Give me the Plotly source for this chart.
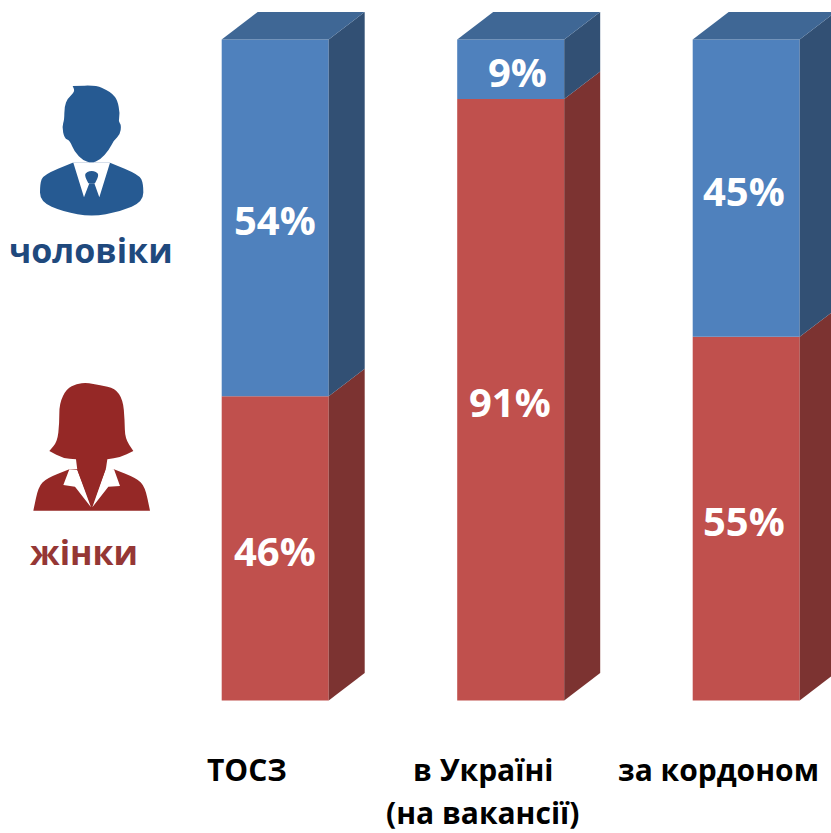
import plotly.graph_objects as go

categories = ["ТОСЗ", "в Україні", "за кордоном"]
category_second_line = ["", "(на вакансії)", ""]
women = [46, 91, 55]
men = [54, 9, 45]
series_names = ["жінки", "чоловіки"]

W, H = 831, 833
PX_PER_CAT = 235.5
PX_PER_PCT = 6.61
X0_PX, Y0_PX = 275.2, 700.4
BAR_PX = 107
DX = 36 / PX_PER_CAT
DY = 27.5 / PX_PER_PCT
HALF = BAR_PX / PX_PER_CAT / 2

BLUE, BLUE_TOP, BLUE_SIDE = "#4F81BD", "#3F6795", "#325074"
RED, RED_SIDE = "#C0504D", "#7C3331"
ICON_BLUE, ICON_RED = "#265A92", "#952826"
FONT = "Open Sans"

fig = go.Figure()
xs = list(range(len(categories)))


def face(x, y, color):
    fig.add_trace(go.Scatter(x=x, y=y, fill="toself", fillcolor=color, mode="lines",
                             line=dict(width=0), hoverinfo="skip", showlegend=False))


fig.add_trace(go.Bar(x=xs, y=women, name=series_names[0], marker=dict(color=RED, line=dict(width=0)),
                     width=2 * HALF, showlegend=False))
fig.add_trace(go.Bar(x=xs, y=men, base=women, name=series_names[1], marker=dict(color=BLUE, line=dict(width=0)),
                     width=2 * HALF, showlegend=False))

for i, (w, m) in enumerate(zip(women, men)):
    r = i + HALF
    l = i - HALF
    t = w + m
    face([r, r + DX, r + DX, r, r], [0, DY, w + DY, w, 0], RED_SIDE)
    face([r, r + DX, r + DX, r, r], [w, w + DY, t + DY, t, w], BLUE_SIDE)
    face([l, l + DX, r + DX, r, l], [t, t + DY, t + DY, t, t], BLUE_TOP)

annotations = []
women_dx = [0, -1, -2]
men_dx = [0, 7, -2]
val_font = dict(family=FONT, size=40, color="white")
cat_font = dict(family=FONT, size=30, color="black")
for i, (w, m) in enumerate(zip(women, men)):
    annotations.append(dict(x=i, y=w / 2, text=f"<b>{w}%</b>", yshift=-2, xshift=women_dx[i], xanchor="center",
                            yanchor="middle", showarrow=False, font=val_font))
    annotations.append(dict(x=i, y=w + m / 2, text=f"<b>{m}%</b>", yshift=-2, xshift=men_dx[i],
                            xanchor="center", yanchor="middle", showarrow=False, font=val_font))
    annotations.append(dict(x=i, y=(Y0_PX - 769) / PX_PER_PCT, text=f"<b>{categories[i]}</b>", xshift=-28,
                            xanchor="center", yanchor="middle", showarrow=False, font=cat_font))
    if category_second_line[i]:
        annotations.append(dict(x=i, y=(Y0_PX - 812) / PX_PER_PCT, text=f"<b>{category_second_line[i]}</b>",
                                xshift=-28, xanchor="center", yanchor="middle", showarrow=False, font=cat_font))

annotations.append(dict(xref="paper", yref="paper", x=91 / W, y=1 - 250 / H, text=f"<b>{series_names[1]}</b>",
                        xanchor="center", yanchor="middle", showarrow=False,
                        font=dict(family=FONT, size=34, color="#1F497D")))
annotations.append(dict(xref="paper", yref="paper", x=84 / W, y=1 - 552 / H, text=f"<b>{series_names[0]}</b>",
                        xanchor="center", yanchor="middle", showarrow=False,
                        font=dict(family=FONT, size=34, color="#953735")))


def icon_path(points, ox, oy, smooth, sharp):
    pts = [(((ox + a / 3) / W), 1 - (oy + b / 3) / H) for a, b in points]
    if not smooth:
        return "M" + " L".join(f"{a:.5f},{b:.5f}" for a, b in pts) + " Z"
    n = len(pts)
    mid = lambda p, q: ((p[0] + q[0]) / 2, (p[1] + q[1]) / 2)
    start = mid(pts[-1], pts[0])
    d = f"M{start[0]:.5f},{start[1]:.5f}"
    for i in range(n):
        p = pts[i]
        m = mid(p, pts[(i + 1) % n])
        if i in sharp:
            d += f" L{p[0]:.5f},{p[1]:.5f} L{m[0]:.5f},{m[1]:.5f}"
        else:
            d += f" Q{p[0]:.5f},{p[1]:.5f} {m[0]:.5f},{m[1]:.5f}"
    return d + " Z"


def icon_shape(points, ox, oy, color, smooth=False, sharp=()):
    return dict(type="path", xref="paper", yref="paper", path=icon_path(points, ox, oy, smooth, sharp),
                fillcolor=color, line=dict(width=0), layer="above")


man_body = [(218, 278), (130, 315), (120, 340), (120, 395), (190, 425), (275, 440), (360, 425), (430, 395),
            (430, 340), (418, 315), (330, 278)]
man_shirt = [(220, 278), (252, 382), (268, 340), (283, 340), (298, 382), (330, 278)]
man_head = [(218, 48), (290, 46), (320, 60), (338, 72), (352, 90), (360, 130), (355, 155), (364, 165), (360, 195),
            (342, 210), (327, 240), (300, 270), (275, 279), (250, 272), (223, 245), (210, 212), (193, 205),
            (186, 170), (193, 150), (193, 110), (203, 85), (225, 65)]
man_knot = [(253, 315), (262, 305), (275, 302), (288, 305), (297, 315), (285, 340), (265, 340)]

woman_body = [(100, 422), (115, 350), (140, 325), (208, 298), (342, 298), (410, 325), (435, 350), (450, 422)]
woman_collar_l = [(208, 298), (190, 345), (225, 350), (273, 412), (232, 300)]
woman_collar_r = [(342, 298), (360, 348), (325, 350), (277, 412), (318, 295)]
woman_hair = [(148, 243), (172, 215), (178, 160), (178, 100), (200, 56), (230, 42), (260, 38), (300, 46), (345, 54),
              (369, 90), (374, 150), (375, 205), (400, 243), (360, 262), (322, 268), (318, 295), (275, 410),
              (232, 300), (228, 268), (190, 265)]

shapes = [
    icon_shape(man_body, 0, 70, ICON_BLUE, smooth=True, sharp=(0, 10)),
    icon_shape(man_shirt, 0, 70, "white"),
    icon_shape(man_head, 0, 70, ICON_BLUE, smooth=True, sharp=(0,)),
    icon_shape(man_knot, 0, 70, ICON_BLUE, smooth=True, sharp=(5, 6)),
    icon_shape(woman_body, 0, 370, ICON_RED, smooth=True, sharp=(0, 3, 4, 7)),
    icon_shape(woman_collar_l, 0, 370, "white"),
    icon_shape(woman_collar_r, 0, 370, "white"),
    icon_shape(woman_hair, 0, 370, ICON_RED, smooth=True, sharp=(0, 12, 14, 15, 16, 17, 18)),
]

fig.update_layout(
    width=W, height=H, margin=dict(l=0, r=0, t=0, b=0), autosize=False,
    paper_bgcolor="white", plot_bgcolor="white", barmode="overlay", showlegend=False,
    annotations=annotations, shapes=shapes,
    xaxis=dict(range=[-X0_PX / PX_PER_CAT, (W - X0_PX) / PX_PER_CAT], visible=False, fixedrange=True),
    yaxis=dict(range=[(Y0_PX - H) / PX_PER_PCT, Y0_PX / PX_PER_PCT], visible=False, fixedrange=True),
)

fig.write_html("out.html", config={"displayModeBar": False},
               post_script="document.body.style.margin='0';document.body.style.overflow='hidden';")
